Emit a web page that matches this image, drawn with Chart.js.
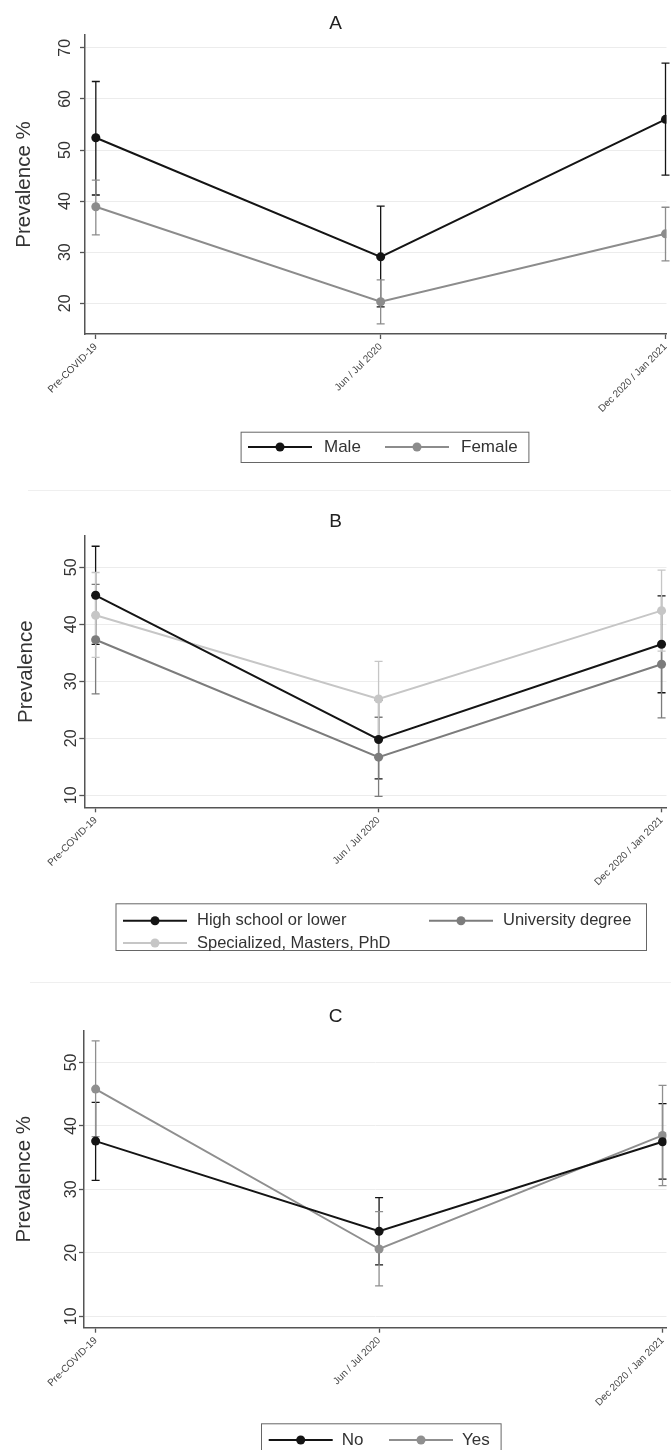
<!DOCTYPE html>
<html>
<head>
<meta charset="utf-8">
<script src="https://cdn.jsdelivr.net/npm/chart.js@4.4.1/dist/chart.umd.min.js"></script>
<style>
  body { margin: 0; background: #fff; width: 671px; overflow: hidden; }
  .panel { position: relative; width: 671px; }
  .sep { position: absolute; height: 1px; background: #efefef; right: 0; }
  canvas { display: block; }
</style>
</head>
<body>
<div class="panel"><canvas id="chartA" width="671" height="480"></canvas></div>
<div class="panel"><div class="sep" style="top:10px;left:28px"></div><canvas id="chartB" width="671" height="480"></canvas></div>
<div class="panel"><div class="sep" style="top:22px;left:30px"></div><canvas id="chartC" width="671" height="490"></canvas></div>
<script>
// time points on the x axis
const periods = ["Pre-COVID-19", "Jun / Jul 2020", "Dec 2020 / Jan 2021"];

// panel A - sex
const aTicks = [20, 30, 40, 50, 60, 70];
const male = [52.4, 29.1, 56.0];
const maleLow = [41.2, 19.3, 45.1];
const maleHigh = [63.4, 39.0, 67.0];
const female = [38.9, 20.3, 33.6];
const femaleLow = [33.4, 16.0, 28.3];
const femaleHigh = [44.1, 24.6, 38.8];

// panel B - education
const bTicks = [10, 20, 30, 40, 50];
const highSchool = [45.1, 19.8, 36.5];
const highSchoolLow = [36.5, 12.9, 28.0];
const highSchoolHigh = [53.7, 26.7, 45.0];
const university = [37.3, 16.7, 33.0];
const universityLow = [27.8, 9.8, 23.6];
const universityHigh = [47.0, 23.7, 42.4];
const specialized = [41.6, 26.9, 42.4];
const specializedLow = [34.2, 20.3, 35.3];
const specializedHigh = [49.1, 33.5, 49.5];

// panel C - no / yes
const cTicks = [10, 20, 30, 40, 50];
const no = [37.6, 23.4, 37.5];
const noLow = [31.4, 18.1, 31.6];
const noHigh = [43.7, 28.7, 43.5];
const yes = [45.8, 20.6, 38.5];
const yesLow = [38.3, 14.8, 30.6];
const yesHigh = [53.4, 26.5, 46.4];

const FONT = "'Liberation Sans', Arial, sans-serif";

// vertical CI bars with caps, drawn under the lines
const errorBars = {
  id: "errorBars",
  beforeDatasetsDraw(chart) {
    const { ctx, scales } = chart;
    ctx.save();
    chart.data.datasets.forEach((ds, i) => {
      const meta = chart.getDatasetMeta(i);
      ctx.strokeStyle = ds.borderColor;
      ctx.lineWidth = 1.3;
      meta.data.forEach((pt, j) => {
        const lo = scales.y.getPixelForValue(ds.low[j]);
        const hi = scales.y.getPixelForValue(ds.high[j]);
        ctx.beginPath();
        ctx.moveTo(pt.x, lo);
        ctx.lineTo(pt.x, hi);
        ctx.moveTo(pt.x - 4, lo);
        ctx.lineTo(pt.x + 4, lo);
        ctx.moveTo(pt.x - 4, hi);
        ctx.lineTo(pt.x + 4, hi);
        ctx.stroke();
      });
    });
    ctx.restore();
  },
};

// stata-like boxed legend under the plot
const boxLegend = {
  id: "boxLegend",
  afterDraw(chart, args, opts) {
    const ctx = chart.ctx;
    const [x1, y1, x2, y2] = opts.box;
    ctx.save();
    ctx.strokeStyle = "#666";
    ctx.lineWidth = 1;
    ctx.strokeRect(x1 + 0.5, y1 + 0.5, x2 - x1, y2 - y1);
    chart.data.datasets.forEach((ds, i) => {
      const it = opts.items[i];
      ctx.strokeStyle = ds.borderColor;
      ctx.lineWidth = 2;
      ctx.beginPath();
      ctx.moveTo(it.x, it.y);
      ctx.lineTo(it.x + 64, it.y);
      ctx.stroke();
      ctx.fillStyle = ds.borderColor;
      ctx.beginPath();
      ctx.arc(it.x + 32, it.y, 4.5, 0, Math.PI * 2);
      ctx.fill();
      ctx.fillStyle = "#333";
      ctx.font = opts.fontSize + "px " + FONT;
      ctx.textBaseline = "middle";
      ctx.fillText(ds.label, it.x + opts.textGap, it.y);
    });
    ctx.restore();
  },
};

const makePanel = (id, p) => {
  return new Chart(document.getElementById(id), {
    type: "line",
    data: {
      datasets: p.series.map((s) => ({
        label: s.label,
        data: s.values.map((v, i) => ({ x: i, y: v })),
        low: s.low,
        high: s.high,
        borderColor: s.color,
        backgroundColor: s.color,
        pointBackgroundColor: s.color,
        pointBorderColor: s.color,
        borderWidth: 2,
        pointRadius: 4.5,
        pointBorderWidth: 0,
        tension: 0,
      })),
    },
    options: {
      responsive: false,
      animation: false,
      layout: { padding: { left: 0, right: 0, top: 0, bottom: p.padBottom } },
      plugins: {
        legend: { display: false },
        tooltip: { enabled: false },
        title: {
          display: true,
          text: p.title,
          color: "#222",
          font: { family: FONT, size: 19, weight: "normal" },
          padding: { top: p.titleTop, bottom: p.titleBottom },
        },
        boxLegend: p.legend,
      },
      scales: {
        x: {
          type: "linear",
          min: p.xMin,
          max: p.xMax,
          afterBuildTicks: (s) => {
            s.ticks = periods.map((_, i) => ({ value: i }));
          },
          afterFit: (s) => {
            s.height = 90;
            s.paddingLeft = 0;
            s.paddingRight = 0;
          },
          ticks: {
            callback: (v) => periods[v],
            minRotation: 45,
            maxRotation: 45,
            autoSkip: false,
            color: "#444",
            font: { family: FONT, size: 10 },
            padding: 2,
          },
          grid: { drawOnChartArea: false, tickLength: 5, tickColor: "#555", tickWidth: 1.3 },
          border: { color: "#555", width: 1.5 },
        },
        y: {
          min: p.yMin,
          max: p.yMax,
          afterBuildTicks: (s) => {
            s.ticks = p.yTicks.map((v) => ({ value: v }));
          },
          afterFit: (s) => {
            s.width = p.axisX;
            s.paddingTop = 0;
            s.paddingBottom = 0;
          },
          ticks: {
            minRotation: 90,
            maxRotation: 90,
            crossAlign: "center",
            color: "#333",
            font: { family: FONT, size: 16 },
            padding: p.yTickPad,
          },
          grid: { color: "#ececec", lineWidth: 1, tickLength: 5, tickColor: "#555", tickWidth: 1.3 },
          border: { color: "#555", width: 1.5 },
          title: {
            display: true,
            text: p.yTitle,
            color: "#333",
            font: { family: FONT, size: 20.5 },
            padding: { top: p.yTitlePad, bottom: 0 },
          },
        },
      },
    },
    plugins: [errorBars, boxLegend],
  });
};

makePanel("chartA", {
  title: "A",
  titleTop: 11.9,
  titleBottom: 0.3,
  padBottom: 56,
  axisX: 85,
  xMin: -0.038,
  xMax: 2.0035,
  yMin: 14,
  yMax: 72.5,
  yTicks: aTicks,
  yTickPad: 6,
  yTitle: "Prevalence %",
  yTitlePad: 11.7,
  series: [
    { label: "Male", values: male, low: maleLow, high: maleHigh, color: "#141414" },
    { label: "Female", values: female, low: femaleLow, high: femaleHigh, color: "#8c8c8c" },
  ],
  legend: {
    box: [240.6, 431.7, 528.4, 462],
    fontSize: 17,
    textGap: 76,
    items: [{ x: 248, y: 447 }, { x: 385, y: 447 }],
  },
});

makePanel("chartB", {
  title: "B",
  titleTop: 30.3,
  titleBottom: 2.9,
  padBottom: 62.7,
  axisX: 84.3,
  xMin: -0.04,
  xMax: 2.0175,
  yMin: 7.9,
  yMax: 55.5,
  yTicks: bTicks,
  yTickPad: -1.3,
  yTitle: "Prevalence",
  yTitlePad: 13.7,
  series: [
    { label: "High school or lower", values: highSchool, low: highSchoolLow, high: highSchoolHigh, color: "#141414" },
    { label: "University degree", values: university, low: universityLow, high: universityHigh, color: "#7c7c7c" },
    { label: "Specialized, Masters, PhD", values: specialized, low: specializedLow, high: specializedHigh, color: "#c6c6c6" },
  ],
  legend: {
    box: [115.5, 423.3, 646, 470],
    fontSize: 16.5,
    textGap: 74,
    items: [{ x: 123, y: 440.7 }, { x: 429, y: 440.7 }, { x: 123, y: 463 }],
  },
});

makePanel("chartC", {
  title: "C",
  titleTop: 45.3,
  titleBottom: 2.6,
  padBottom: 32.3,
  axisX: 84,
  xMin: -0.041,
  xMax: 2.014,
  yMin: 8.2,
  yMax: 55,
  yTicks: cTicks,
  yTickPad: -1.2,
  yTitle: "Prevalence %",
  yTitlePad: 11.7,
  series: [
    { label: "No", values: no, low: noLow, high: noHigh, color: "#141414" },
    { label: "Yes", values: yes, low: yesLow, high: yesHigh, color: "#8f8f8f" },
  ],
  legend: {
    box: [261, 463.3, 500.6, 495],
    fontSize: 17,
    textGap: 73,
    items: [{ x: 268.7, y: 480 }, { x: 389, y: 480 }],
  },
});
</script>
</body>
</html>
